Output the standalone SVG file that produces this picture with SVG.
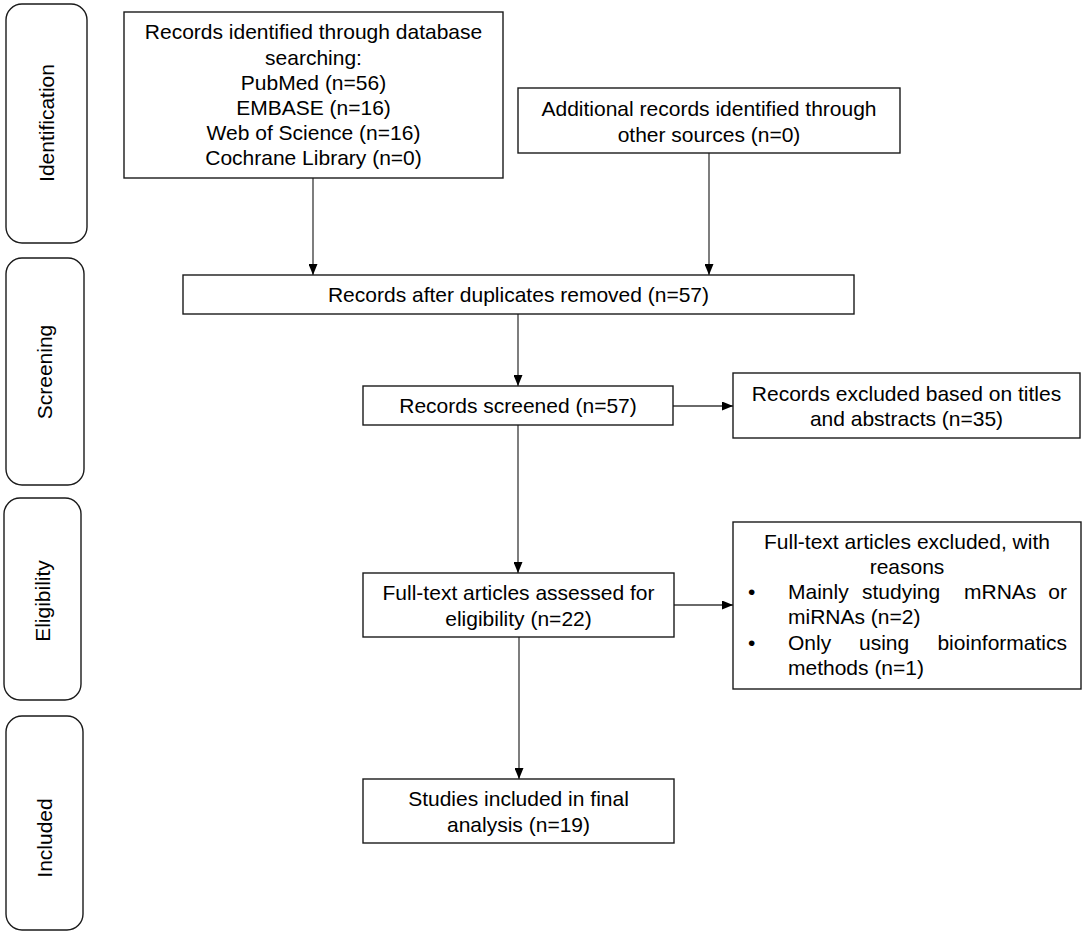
<svg xmlns="http://www.w3.org/2000/svg" width="1084" height="940" viewBox="0 0 1084 940">
<style>
.box{fill:#fff;stroke:#1a1a1a;stroke-width:1.4}
.stage{fill:#fff;stroke:#1a1a1a;stroke-width:1.4}
.t{font-family:"Liberation Sans",Arial,sans-serif;font-size:21px;fill:#000}
.c{text-anchor:middle}
.e{text-anchor:end}
.con{stroke:#383838;stroke-width:1.3;fill:none}
</style>
<defs>
<marker id="ah" viewBox="0 0 11 9" refX="11" refY="4.5" markerWidth="11" markerHeight="9" markerUnits="userSpaceOnUse" orient="auto">
<path d="M0,0 L11,4.5 L0,9 Z" fill="#000"/>
</marker>
</defs>
<rect width="1084" height="940" fill="#fff"/>

<g id="stage-identification">
<rect class="stage" x="6" y="4" width="81" height="239" rx="16"/>
<text class="t c" transform="translate(54,123) rotate(-90)">Identification</text>
</g>
<g id="stage-screening">
<rect class="stage" x="6" y="258" width="78" height="227" rx="16"/>
<text class="t c" transform="translate(52,372) rotate(-90)">Screening</text>
</g>
<g id="stage-eligibility">
<rect class="stage" x="4" y="498" width="77" height="202" rx="16"/>
<text class="t c" transform="translate(50,601) rotate(-90)">Eligibility</text>
</g>
<g id="stage-included">
<rect class="stage" x="6" y="716" width="77" height="214" rx="16"/>
<text class="t c" transform="translate(52,838) rotate(-90)">Included</text>
</g>

<g id="connectors">
<line class="con" x1="313" y1="178" x2="313" y2="275" marker-end="url(#ah)"/>
<line class="con" x1="709" y1="153" x2="709" y2="275" marker-end="url(#ah)"/>
<line class="con" x1="518" y1="314" x2="518" y2="386" marker-end="url(#ah)"/>
<line class="con" x1="673" y1="406" x2="733" y2="406" marker-end="url(#ah)"/>
<line class="con" x1="518" y1="425" x2="518" y2="573" marker-end="url(#ah)"/>
<line class="con" x1="674" y1="605" x2="733" y2="605" marker-end="url(#ah)"/>
<line class="con" x1="519" y1="637" x2="519" y2="779" marker-end="url(#ah)"/>
</g>

<g id="node-database">
<rect class="box" x="124" y="12" width="379" height="166"/>
<text class="t c" x="313.5" y="39">Records identified through database</text>
<text class="t c" x="313.5" y="64.5">searching:</text>
<text class="t c" x="313.5" y="90">PubMed (n=56)</text>
<text class="t c" x="313.5" y="115">EMBASE (n=16)</text>
<text class="t c" x="313.5" y="140">Web of Science (n=16)</text>
<text class="t c" x="313.5" y="165">Cochrane Library (n=0)</text>
</g>

<g id="node-additional">
<rect class="box" x="518" y="88" width="382" height="65"/>
<text class="t c" x="709" y="116">Additional records identified through</text>
<text class="t c" x="709" y="142">other sources (n=0)</text>
</g>

<g id="node-duplicates">
<rect class="box" x="183" y="275" width="671" height="39"/>
<text class="t c" x="518.5" y="302">Records after duplicates removed (n=57)</text>
</g>

<g id="node-screened">
<rect class="box" x="363" y="386" width="310" height="39"/>
<text class="t c" x="518" y="413">Records screened (n=57)</text>
</g>

<g id="node-excluded-titles">
<rect class="box" x="733" y="373" width="347" height="65"/>
<text class="t c" x="906.5" y="401">Records excluded based on titles</text>
<text class="t c" x="906.5" y="426">and abstracts (n=35)</text>
</g>

<g id="node-fulltext">
<rect class="box" x="363" y="573" width="311" height="64"/>
<text class="t c" x="518.5" y="600">Full-text articles assessed for</text>
<text class="t c" x="518.5" y="626">eligibility (n=22)</text>
</g>

<g id="node-excluded-fulltext">
<rect class="box" x="733" y="522" width="348" height="167"/>
<text class="t c" x="907" y="549">Full-text articles excluded, with</text>
<text class="t c" x="907" y="574">reasons</text>
<text class="t" x="748" y="599">•</text>
<text class="t" x="788" y="599">Mainly</text>
<text class="t" x="862" y="599">studying</text>
<text class="t" x="964" y="599">mRNAs</text>
<text class="t e" x="1067" y="599">or</text>
<text class="t" x="788" y="624">miRNAs (n=2)</text>
<text class="t" x="748" y="650">•</text>
<text class="t" x="788" y="650">Only</text>
<text class="t" x="859" y="650">using</text>
<text class="t e" x="1067" y="650">bioinformatics</text>
<text class="t" x="788" y="675">methods (n=1)</text>
</g>

<g id="node-included">
<rect class="box" x="363" y="779" width="311" height="64"/>
<text class="t c" x="518.5" y="806">Studies included in final</text>
<text class="t c" x="518.5" y="832">analysis (n=19)</text>
</g>
</svg>
